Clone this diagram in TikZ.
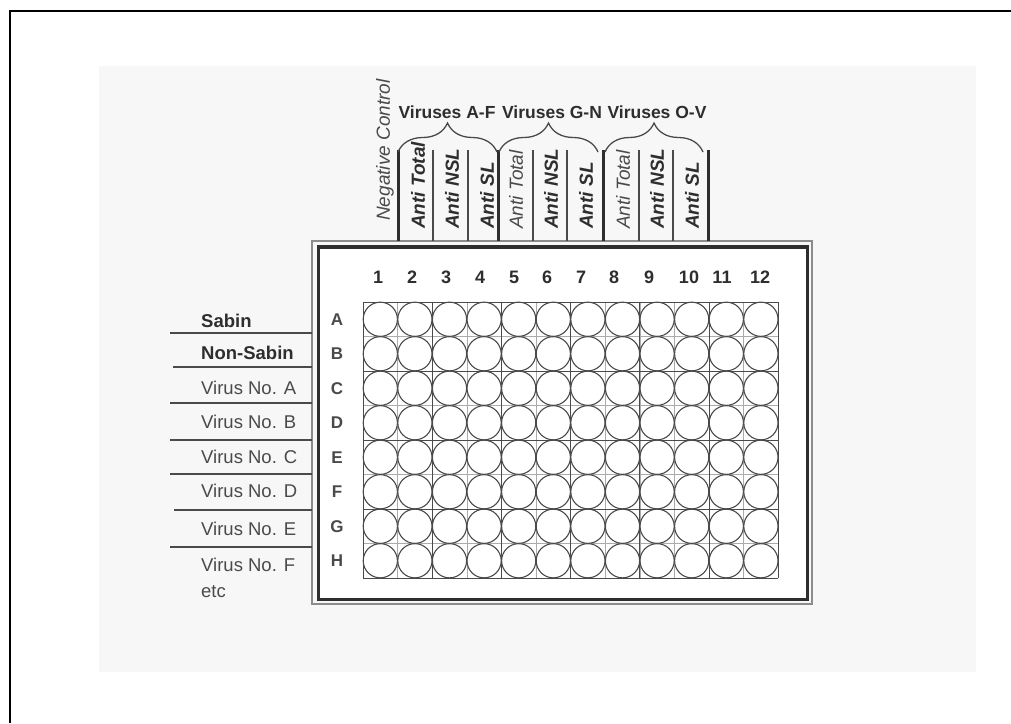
\documentclass[tikz,border=0pt]{standalone}
\usepackage{fontspec}
\setmainfont{Liberation Sans}
\usetikzlibrary{decorations.pathreplacing}
\definecolor{InkDark}{HTML}{2E2E2E}
\definecolor{InkGrey}{HTML}{4A4A4A}
\definecolor{InkLight}{HTML}{8C8C8C}
\definecolor{InkFaint}{HTML}{ABABAB}
\definecolor{ScanBg}{HTML}{F7F7F7}

\begin{document}
\begin{tikzpicture}[x=1pt, y=-1pt,
  txt/.style={inner sep=0pt, text=InkDark, font=\fontsize{18.5}{26}\selectfont},
  hdr/.style={txt, rotate=90, anchor=west, font=\fontsize{19}{22}\selectfont},
  grp/.style={txt, font=\bfseries\fontsize{17.5}{20}\selectfont},
  curly/.style={decorate, decoration={brace, amplitude=29pt}, InkGrey, line width=1.3pt},
  sep/.style={InkGrey, line width=1.1pt},
  well/.style={InkGrey, line width=1.1pt},
  fine/.style={InkFaint, line width=0.5pt},
  block/.style={InkGrey, line width=1pt}]
  \useasboundingbox (0,0) rectangle (1011,723);
  % Page frame and scanned sheet
  \draw[line width=2.2pt] (10,723) -- (10,11) -- (1011,11);
  \fill[ScanBg] (99,66) rectangle (976,672);
  % Plate frame
  \fill[white] (320,249) rectangle (806,598);
  \draw[InkLight, line width=1.5pt] (312,241) rectangle (812,604);
  \draw[InkDark, line width=3.5pt] (318.5,247) rectangle (807.5,599.5);
  % Grid (cells, then 2x2 blocks)
  \foreach \c in {0,...,12}
    \draw[fine] ({363+34.6*\c},302) -- ({363+34.6*\c},578);
  \foreach \r in {0,...,8}
    \draw[fine] (363,{302+34.5*\r}) -- (778.2,{302+34.5*\r});
  \foreach \c in {0,2,...,12}
    \draw[block] ({363+34.6*\c},302) -- ({363+34.6*\c},578);
  \foreach \r in {0,2,...,8}
    \draw[block] (363,{302+34.5*\r}) -- (778.2,{302+34.5*\r});
  % Wells
  \foreach \r in {1,...,8}
    \foreach \c in {1,...,12}
      \draw[well, fill=white, fill opacity=0.6] ({363+34.6*(\c-0.5)},{302+34.5*(\r-0.5)}) circle[radius=17.1pt];
  % Column numbers
  \foreach \c/\x in {1/378, 2/412, 3/446, 4/480, 5/514, 6/547, 7/581, 8/614, 9/649, 10/689, 11/722, 12/760}
    \node[txt, font=\bfseries\fontsize{18}{20}\selectfont] (col\c) at (\x,277) {\c};
  % Row letters
  \foreach \l [count=\r] in {A,B,C,D,E,F,G,H}
    \node[txt, text=InkGrey, font=\bfseries\fontsize{17}{20}\selectfont] (row\l) at (337,{302+34.5*(\r-0.5)}) {\l};
  % Sample labels on the left
  \foreach \y/\a in {333/170, 367/173, 403/170, 440/170, 474/170, 510/174, 547/170}
    \draw[sep] (\a,\y) -- (312,\y);
  \node[txt, anchor=west, font=\bfseries\fontsize{18.5}{26}\selectfont] (labSabin) at (201,321) {Sabin};
  \node[txt, anchor=west, font=\bfseries\fontsize{18.5}{26}\selectfont] (labNonSabin) at (201,353) {Non-Sabin};
  \foreach \v/\y in {A/388, B/422, C/457, D/491, E/529}
    \node[txt, anchor=west, text=InkGrey] (labVirus\v) at (201,\y) {Virus No. \v};
  \node[txt, anchor=north west, align=left, text=InkGrey] (labVirusF) at (201,558) {Virus No. F\\etc};
  % Column headers
  \node[hdr, text=InkGrey] (hdrNeg) at (385,221) {\itshape Negative Control};
  \foreach \x in {398,498,603,708}
    \draw[InkDark, line width=3pt] (\x,150) -- (\x,241);
  \foreach \x in {433,468,533,567,639,673}
    \draw[InkGrey, line width=1.3pt] (\x,150) -- (\x,241);
  \node[hdr] (hdrTotAF) at (418,229) {\bfseries\itshape Anti Total};
  \node[hdr] (hdrNslAF) at (452,229) {\bfseries\itshape Anti NSL};
  \node[hdr] (hdrSlAF) at (487,229) {\bfseries\itshape Anti SL};
  \node[hdr, text=InkGrey] (hdrTotGN) at (516,229) {\itshape Anti Total};
  \node[hdr] (hdrNslGN) at (551,229) {\bfseries\itshape Anti NSL};
  \node[hdr] (hdrSlGN) at (586,229) {\bfseries\itshape Anti SL};
  \node[hdr, text=InkGrey] (hdrTotOV) at (623,229) {\itshape Anti Total};
  \node[hdr] (hdrNslOV) at (657,229) {\bfseries\itshape Anti NSL};
  \node[hdr] (hdrSlOV) at (692,229) {\bfseries\itshape Anti SL};
  % Virus groups
  \draw[curly] (398,152) -- (497,152);
  \draw[curly] (499,152) -- (598,152);
  \draw[curly] (605,152) -- (703,152);
  \node[grp] (grpAF) at (447,112) {Viruses A-F};
  \node[grp] (grpGN) at (552,112) {Viruses G-N};
  \node[grp] (grpOV) at (657,112) {Viruses O-V};
\end{tikzpicture}
\end{document}
